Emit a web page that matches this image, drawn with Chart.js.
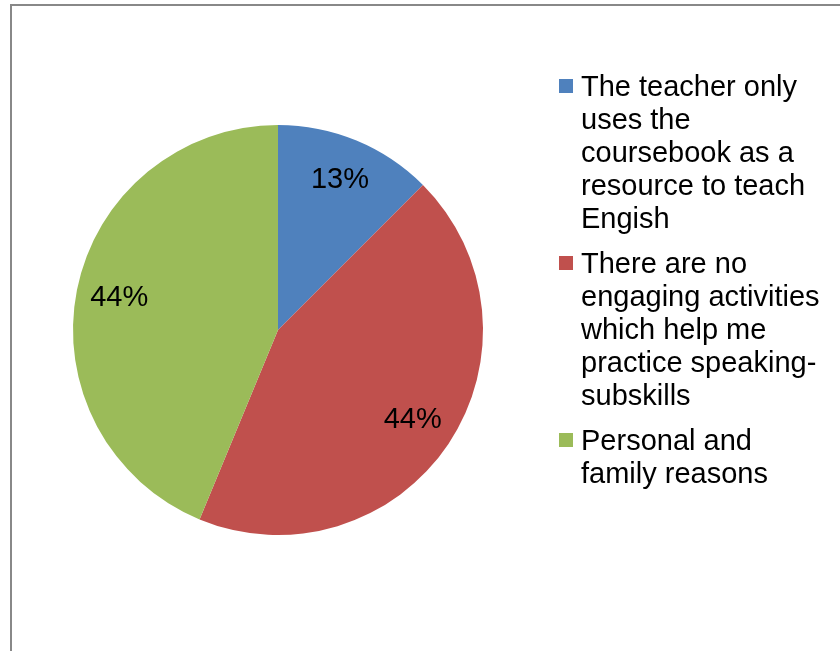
<!DOCTYPE html>
<html>
<head>
<meta charset="utf-8">
<script src="https://cdn.jsdelivr.net/npm/chart.js@4/dist/chart.umd.min.js"></script>
<style>
html,body{margin:0;padding:0;background:#fff;}
#wrap{position:relative;width:840px;height:651px;}
</style>
</head>
<body>
<div id="wrap"><canvas id="c" width="840" height="651"></canvas></div>
<script>
const categories = [
  "The teacher only uses the coursebook as a resource to teach Engish",
  "There are no engaging activities which help me practice speaking-subskills",
  "Personal and family reasons"
];
const legendLines = [
  ["The teacher only", "uses the", "coursebook as a", "resource to teach", "Engish"],
  ["There are no", "engaging activities", "which help me", "practice speaking-", "subskills"],
  ["Personal and", "family reasons"]
];
const values = [2, 7, 7];
const percentLabels = ["13%", "44%", "44%"];
const colors = ["#4F81BD", "#C0504D", "#9BBB59"];

const FONT = "29px 'Liberation Sans', Arial, sans-serif";

const framePlugin = {
  id: "frame",
  beforeDraw(chart) {
    const ctx = chart.ctx;
    ctx.save();
    ctx.fillStyle = "#ffffff";
    ctx.fillRect(0, 0, chart.width, chart.height);
    ctx.strokeStyle = "#888888";
    ctx.lineWidth = 2;
    ctx.beginPath();
    ctx.moveTo(11, chart.height);
    ctx.lineTo(11, 5);
    ctx.lineTo(chart.width, 5);
    ctx.stroke();
    ctx.restore();
  }
};

const labelPlugin = {
  id: "pctLabels",
  afterDatasetsDraw(chart) {
    const ctx = chart.ctx;
    const meta = chart.getDatasetMeta(0);
    ctx.save();
    ctx.font = FONT;
    ctx.fillStyle = "#000000";
    ctx.textAlign = "center";
    ctx.textBaseline = "middle";
    meta.data.forEach((arc, i) => {
      const p = arc.getProps(["x", "y", "startAngle", "endAngle", "outerRadius"], true);
      const mid = (p.startAngle + p.endAngle) / 2;
      const r = p.outerRadius * 0.79;
      ctx.fillText(percentLabels[i], p.x + Math.cos(mid) * r, p.y + Math.sin(mid) * r);
    });
    ctx.restore();
  }
};

const legendPlugin = {
  id: "sideLegend",
  afterDraw(chart) {
    const ctx = chart.ctx;
    ctx.save();
    ctx.font = FONT;
    ctx.textAlign = "left";
    ctx.textBaseline = "alphabetic";
    const lineH = 33;
    const gap = 12;
    let baseline = 96;
    legendLines.forEach((lines, i) => {
      ctx.fillStyle = colors[i];
      ctx.fillRect(559, baseline - 17, 14, 14);
      ctx.fillStyle = "#000000";
      lines.forEach((t, j) => {
        ctx.fillText(t, 581, baseline + j * lineH);
      });
      baseline += lines.length * lineH + gap;
    });
    ctx.restore();
  }
};

new Chart(document.getElementById("c"), {
  type: "pie",
  data: {
    labels: categories,
    datasets: [{
      data: values,
      backgroundColor: colors,
      borderWidth: 0
    }]
  },
  options: {
    responsive: false,
    animation: false,
    layout: { padding: { left: 73, right: 357, top: 125, bottom: 116 } },
    plugins: {
      legend: { display: false },
      tooltip: { enabled: false }
    }
  },
  plugins: [framePlugin, labelPlugin, legendPlugin]
});
</script>
</body>
</html>
